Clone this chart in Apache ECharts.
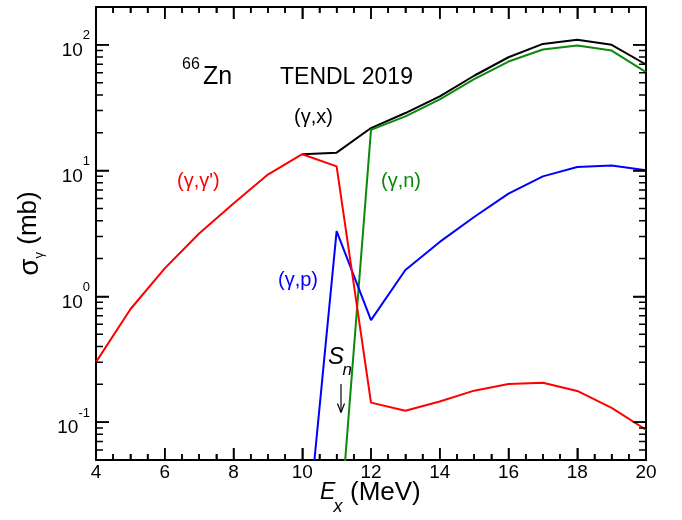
<!DOCTYPE html>
<html><head><meta charset="utf-8">
<script src="https://cdn.jsdelivr.net/npm/echarts@6/dist/echarts.min.js"></script>
<style>html,body{margin:0;padding:0;background:#fff}#c{width:682px;height:520px}</style>
</head><body><div id="c"></div>
<script>
// ---- data ----
const energies = [4,5,6,7,8,9,10,11,12,13,14,15,16,17,18,19,20];
const gammaX     = [null,null,null,null,null,null,13.5,13.9,21.8,28.7,39,56.8,79.7,101.8,110,100,69.8];
const gammaGamma = [0.30,0.79,1.67,3.16,5.47,9.3,13.5,10.8,0.143,0.123,0.146,0.178,0.201,0.206,0.177,0.130,0.087];
const gammaN     = [null,null,null,null,null,null,null,0.0067,21.1,27,36.8,53.3,73.7,91.8,99,90,60.7];
const gammaP     = [null,null,null,null,null,null,0.005,3.30,0.648,1.62,2.71,4.28,6.56,9.0,10.7,11.0,10.05];
const xRange = [4, 20];
const yRange = [0.05, 200];
const xMajorTicks = [6,8,10,12,14,16,18];
const xMinorTicks = [4.5,5,5.5,6.5,7,7.5,8.5,9,9.5,10.5,11,11.5,12.5,13,13.5,14.5,15,15.5,16.5,17,17.5,18.5,19,19.5];
const yMajorTicks = [0.1, 1, 10, 100];
const yMinorTicks = [0.06,0.07,0.08,0.09,0.2,0.3,0.4,0.5,0.6,0.7,0.8,0.9,2,3,4,5,6,7,8,9,20,30,40,50,60,70,80,90];

const FONT = 'Liberation Sans, Arial, Helvetica, sans-serif';
const pairs = arr => energies.map((e,i) => [e, arr[i]]);

const chart = echarts.init(document.getElementById('c'));

function lineSeries(name, data, color) {
  return { name, type:'line', data: pairs(data), showSymbol:false, symbol:'none',
    connectNulls:false, clip:true, lineStyle:{color, width:2}, itemStyle:{color}, z:2 };
}
function axLine() { return {show:true, onZero:false, lineStyle:{color:'#000', width:2}}; }
function tick(len) { return {show:true, inside:true, length:len, lineStyle:{color:'#000', width:1.5}}; }
function minor() { return {show:true, splitNumber:4, length:6, lineStyle:{color:'#000', width:1.5}}; }

const supLabel = v => {
  const l = Math.log10(v);
  if (Math.abs(l - Math.round(l)) > 0.01) return '';
  return '{b|10}{s|' + Math.round(l) + '}';
};
function txt(text, x, y, size, fill, italic) {
  return {type:'text', style:{text, x, y, fontSize:size, fontStyle: italic ? 'italic' : 'normal',
    fontFamily:FONT, fill, align:'left', verticalAlign:'middle'}};
}
function seg(x1, y1, x2, y2, w) {
  return {type:'line', shape:{x1, y1, x2, y2}, style:{stroke:'#000', lineWidth:w}};
}

const texts = [
  txt('66', 182, 64.5, 16, '#000'),
  txt('Zn', 203, 77, 25, '#000'),
  txt('TENDL 2019', 280, 77.3, 23, '#000'),
  txt('(γ,x)', 294, 117.4, 20, '#000'),
  txt("(γ,γ')", 177, 181.3, 20, '#ff0000'),
  txt('(γ,n)', 381, 181.3, 20, '#0a8a0a'),
  txt('(γ,p)', 278, 280.8, 20, '#0000ff'),
  txt('S', 328, 357, 24, '#000', true),
  txt('n', 342.5, 370, 17, '#000', true),
  seg(341, 384, 341, 412, 1.2),
  seg(337.5, 403.5, 341, 412.5, 1.2),
  seg(344.5, 403.5, 341, 412.5, 1.2),
  txt('E', 320, 492.5, 23, '#000', true),
  txt('x', 333.5, 507, 18, '#000', true),
  txt('(MeV)', 350, 493, 26, '#000')
];

chart.setOption({
  animation:false,
  backgroundColor:'#fff',
  grid:{left:96, right:36, top:7, bottom:60},
  xAxis:[
    {type:'value', min:xRange[0], max:xRange[1], interval:2, position:'bottom',
     axisLine:axLine(), splitLine:{show:false}, axisTick:tick(12), minorTick:minor(),
     axisLabel:{color:'#000', fontSize:19, fontFamily:FONT, margin:3}},
    {type:'value', min:xRange[0], max:xRange[1], interval:2, position:'top',
     axisLine:axLine(), splitLine:{show:false}, axisTick:tick(12), minorTick:minor(),
     axisLabel:{show:false}}
  ],
  yAxis:[
    {type:'log', logBase:10, min:yRange[0], max:yRange[1], position:'left',
     axisLine:axLine(), splitLine:{show:false}, axisTick:tick(13),
     name:'{a|σ}{g|γ}{m| (mb)}', nameLocation:'middle', nameGap:50, nameRotate:90,
     nameTextStyle:{color:'#000', fontFamily:FONT,
       rich:{ a:{fontSize:28, fontFamily:FONT, color:'#000', lineHeight:30, verticalAlign:'top'},
              g:{fontSize:13, fontFamily:FONT, color:'#000', lineHeight:18, verticalAlign:'bottom'},
              m:{fontSize:26, fontFamily:FONT, color:'#000', lineHeight:30, verticalAlign:'top'} }},
     axisLabel:{color:'#000', fontFamily:FONT, margin:6,
       formatter:supLabel,
       rich:{ b:{fontSize:19, fontFamily:FONT, color:'#000', lineHeight:19, verticalAlign:'bottom'},
              s:{fontSize:13, fontFamily:FONT, color:'#000', lineHeight:31, verticalAlign:'top'} }}},
    {type:'log', logBase:10, min:yRange[0], max:yRange[1], position:'right',
     axisLine:axLine(), splitLine:{show:false}, axisTick:tick(13), axisLabel:{show:false}}
  ],
  series:[
    lineSeries('(γ,x)', gammaX, '#000000'),
    lineSeries('(γ,n)', gammaN, '#0a8a0a'),
    lineSeries('(γ,p)', gammaP, '#0000ff'),
    lineSeries("(γ,γ')", gammaGamma, '#ff0000')
  ],
  graphic: texts
});

// tick marks drawn as short line segments through the axes' own scales
const xL = chart.convertToPixel({xAxisIndex:0}, xRange[0]);
const xR = chart.convertToPixel({xAxisIndex:0}, xRange[1]);
const yB = chart.convertToPixel({yAxisIndex:0}, yRange[0]);
const yT = chart.convertToPixel({yAxisIndex:0}, yRange[1]);
const tickData = [];
function xTick(v, len) {
  const vb = chart.convertFromPixel({yAxisIndex:0}, yB - len);
  const vt = chart.convertFromPixel({yAxisIndex:0}, yT + len);
  tickData.push([v, yRange[0]], [v, vb], [v, null], [v, yRange[1]], [v, vt], [v, null]);
}
function yTick(v, len) {
  const xl = chart.convertFromPixel({xAxisIndex:0}, xL + len);
  const xr = chart.convertFromPixel({xAxisIndex:0}, xR - len);
  tickData.push([xRange[0], v], [xl, v], [xRange[0], null], [xRange[1], v], [xr, v], [xRange[1], null]);
}
xMajorTicks.forEach(v => xTick(v, 12));
xMinorTicks.forEach(v => xTick(v, 6));
yMajorTicks.forEach(v => yTick(v, 13));
yMinorTicks.forEach(v => yTick(v, 7));

const opt = chart.getOption();
chart.setOption({
  series: opt.series.concat([{ name:'ticks', type:'line', data:tickData, showSymbol:false, symbol:'none',
    connectNulls:false, clip:false, silent:true, z:6,
    lineStyle:{color:'#000', width:1.5}, itemStyle:{color:'#000'} }])
});
</script></body></html>
